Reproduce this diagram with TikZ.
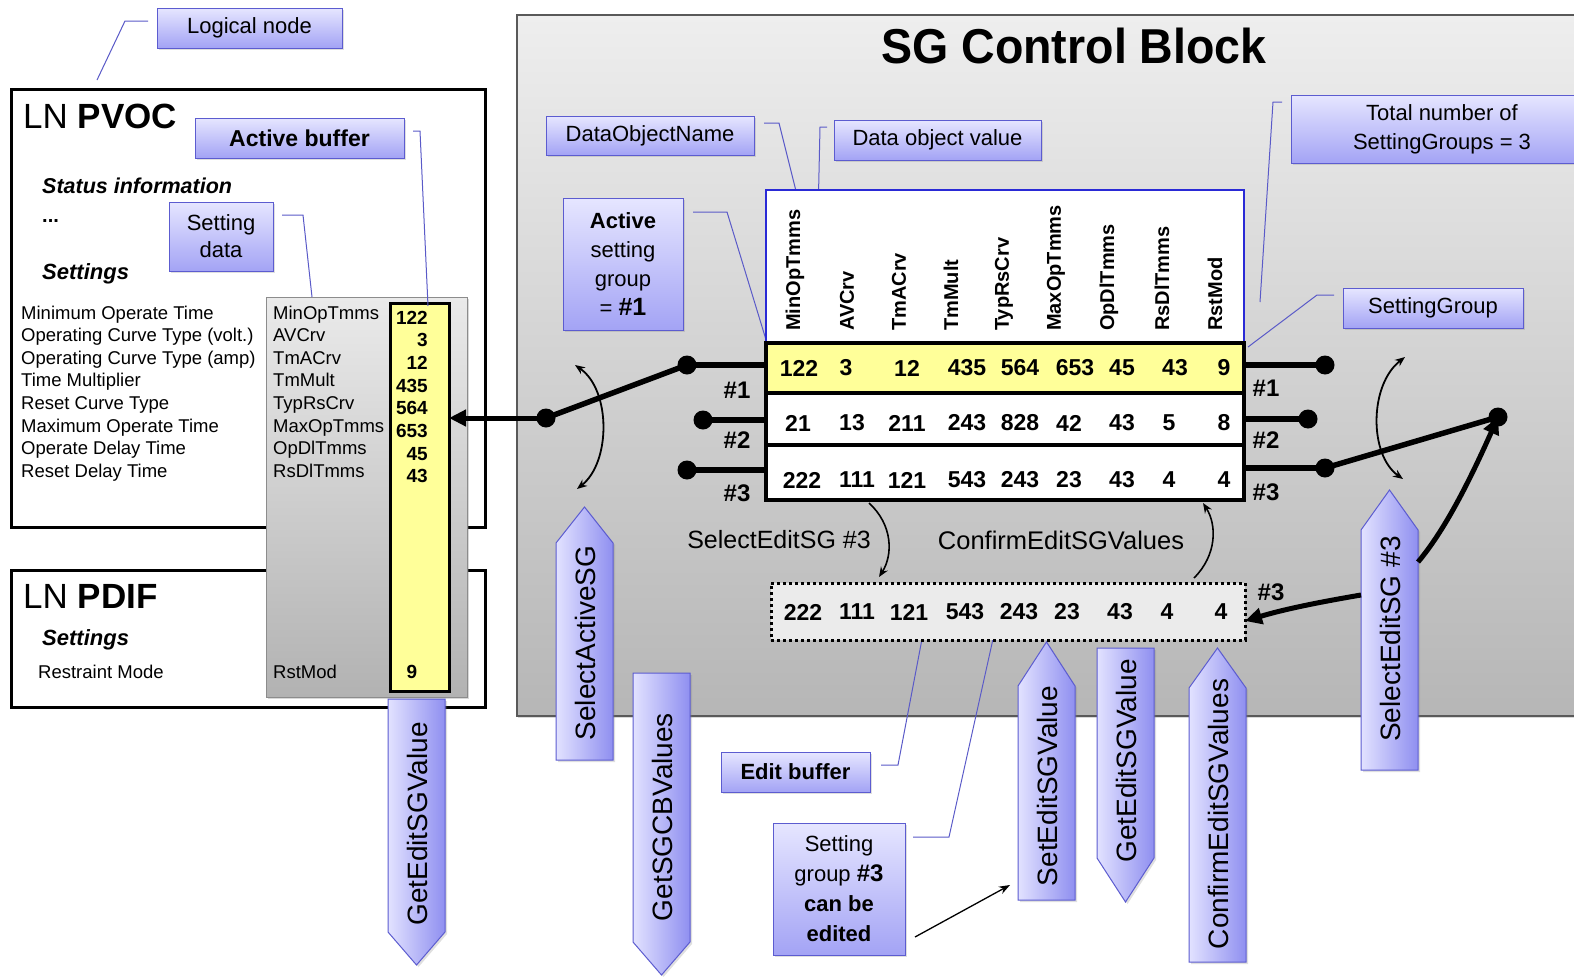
\documentclass[tikz,border=0pt]{standalone}
\usepackage{fontspec}
\setmainfont{Liberation Sans}
\newfontfamily\titlef[FakeStretch=0.95]{Liberation Sans}
\usetikzlibrary{arrows.meta,shadows,calc}
\definecolor{cbord}{HTML}{5C5CD0}
\definecolor{ctop}{HTML}{E6E6FF}
\definecolor{cbot}{HTML}{A3A3F5}
\definecolor{aleft}{HTML}{E2E2FF}
\definecolor{aright}{HTML}{8F8FF0}
\definecolor{callc}{HTML}{5A5AC8}
\definecolor{tblue}{HTML}{2A2AD6}
\definecolor{yel}{HTML}{FFFF99}
\definecolor{ptop}{HTML}{EEEEEE}
\definecolor{pbot}{HTML}{B6B6B6}
\definecolor{stop}{HTML}{EAEAEA}
\definecolor{sbot}{HTML}{B2B2B2}
\definecolor{ebuf}{HTML}{EBEBEB}
\newcommand\fsz[2]{\fontsize{#1}{#2}\selectfont}
\newcommand\ArrowShape[5]{\path[arrowshape] (#1,#5) -- (#1,#4) -- ({(#1+#2)/2},#3) -- (#2,#4) -- (#2,#5) -- cycle;}
\begin{document}
\begin{tikzpicture}[x=1pt,y=-1pt,
  bluebox/.style={draw=cbord, line width=1pt, top color=ctop, bottom color=cbot,
    drop shadow={opacity=0.25,shadow xshift=2pt,shadow yshift=-2pt},
    inner sep=0pt, align=center, font=\fsz{22}{27}},
  callout/.style={draw=callc, line width=1pt},
  arrowshape/.style={draw=cbord, line width=1pt, left color=aleft, right color=aright,
    drop shadow={opacity=0.25,shadow xshift=2pt,shadow yshift=-2pt}},
  vtext/.style={rotate=90, font=\fsz{28}{32}, inner sep=0pt},
  num/.style={font=\bfseries\fsz{23}{26}, inner sep=0pt},
  hdr/.style={rotate=90, anchor=west, font=\bfseries\fsz{20}{24}, inner sep=0pt},
  contact/.style={circle, fill=black, minimum size=19pt, inner sep=0pt},
  lbl/.style={font=\bfseries\fsz{24}{28}, inner sep=0pt},
  lst/.style={anchor=base west, font=\fsz{18.5}{22}, inner sep=0pt},
  lnbox/.style={draw=black, line width=3pt, fill=white, inner sep=0pt, outer sep=0pt},
  rowbox/.style={draw=black, line width=3.5pt, inner sep=0pt, outer sep=0pt, minimum width=478pt},
  thinarr/.style={line width=1.6pt, -{Stealth[length=10pt,width=8pt]}},
  dblarr/.style={line width=1.8pt, {Stealth[length=10pt,width=8pt]}-{Stealth[length=10pt,width=8pt]}},
  thickarr/.style={line width=5pt, -{Triangle[length=17pt,width=16pt]}},
  arm/.style={line width=5.5pt}
]
\useasboundingbox (0,0) rectangle (1574,977);
\fill[white] (0,0) rectangle (1574,977);

% ---------- main SG control block panel
\path[draw=black!65, line width=1.5pt, top color=ptop, bottom color=pbot,
  drop shadow={opacity=0.3,shadow xshift=1pt,shadow yshift=-2pt}] (517,15) rectangle (1620,716);
\node[font=\titlef\bfseries\fsz{49}{54}, inner sep=0pt] (title) at (1074,46) {SG Control Block};

% ---------- logical node boxes
\node[lnbox, minimum width=474pt, minimum height=438pt] (pvoc) at (248,308) {};
\node[lnbox, minimum width=474pt, minimum height=137pt] (pdif) at (248,638.5) {};
\node[anchor=base west, inner sep=0pt, font=\fsz{35}{40}] (pvoct) at (23,128) {LN \textbf{PVOC}};
\node[anchor=base west, inner sep=0pt, font=\bfseries\itshape\fsz{21.5}{26}] (stat) at (42,193) {Status information};
\node[anchor=base west, inner sep=0pt, font=\bfseries\fsz{20}{24}] (dots) at (42,222) {...};
\node[anchor=base west, inner sep=0pt, font=\bfseries\itshape\fsz{22}{26}] (set1) at (42,279) {Settings};
\node[anchor=base west, inner sep=0pt, font=\fsz{35}{40}] (pdift) at (23,608) {LN \textbf{PDIF}};
\node[anchor=base west, inner sep=0pt, font=\bfseries\itshape\fsz{22}{26}] (set2) at (42,645) {Settings};
\node[lst] (rmode) at (38,678) {Restraint Mode};

% settings panel with active buffer column
\path[draw=black!45, line width=1pt, top color=stop, bottom color=sbot,
  drop shadow={opacity=0.3,shadow xshift=2pt,shadow yshift=-2pt}] (266,297) rectangle (467,697);
\node[draw=black, line width=3pt, fill=yel, minimum width=59pt, minimum height=388pt,
  inner sep=0pt, outer sep=0pt] (ycol) at (419.5,497) {};

\foreach \t [count=\i from 0] in {Minimum Operate Time, Operating Curve Type (volt.),
  Operating Curve Type (amp), Time Multiplier, Reset Curve Type, Maximum Operate Time,
  Operate Delay Time, Reset Delay Time}
  \node[lst] (lab\i) at (21,{319+22.6*\i}) {\t};
\foreach \t [count=\i from 0] in {MinOpTmms, AVCrv, TmACrv, TmMult, TypRsCrv, MaxOpTmms, OpDlTmms, RsDlTmms}
  \node[lst] (nm\i) at (273,{319+22.6*\i}) {\t};
\foreach \t [count=\i from 0] in {122,3,12,435,564,653,45,43}
  \node[anchor=base east, inner sep=0pt, font=\bfseries\fsz{19}{22}] (val\i) at (428,{324+22.7*\i}) {\t};
\node[lst] (nmR) at (273,678) {RstMod};
\node[anchor=base, inner sep=0pt, font=\bfseries\fsz{19}{22}] (valR) at (412,678) {9};

% ---------- callouts
\coordinate (lnA) at (148,21); \coordinate (lnB) at (125,21); \coordinate (lnC) at (97,80);
\draw[callout] (lnA) -- (lnB) -- (lnC);
\coordinate (abA) at (413,131); \coordinate (abB) at (420,131); \coordinate (abC) at (428,306);
\draw[callout] (abA) -- (abB) -- (abC);
\coordinate (sdA) at (282,215); \coordinate (sdB) at (303,215); \coordinate (sdC) at (312,297);
\draw[callout] (sdA) -- (sdB) -- (sdC);
\coordinate (dnA) at (764,123); \coordinate (dnB) at (779,123); \coordinate (dnC) at (799,203);
\draw[callout] (dnA) -- (dnB) -- (dnC);
\coordinate (dvA) at (827,127); \coordinate (dvB) at (820,127); \coordinate (dvC) at (815,353);
\draw[callout] (dvA) -- (dvB) -- (dvC);
\coordinate (asA) at (693,212); \coordinate (asB) at (727,212); \coordinate (asC) at (767,343);
\draw[callout] (asA) -- (asB) -- (asC);
\coordinate (tnA) at (1282,102); \coordinate (tnB) at (1273,102); \coordinate (tnC) at (1260,302);
\draw[callout] (tnA) -- (tnB) -- (tnC);
\coordinate (sgA) at (1334,295); \coordinate (sgB) at (1317,295); \coordinate (sgC) at (1248,347);
\draw[callout] (sgA) -- (sgB) -- (sgC);
\coordinate (ebA) at (881,765); \coordinate (ebB) at (898,765); \coordinate (ebC) at (922,639);
\draw[callout] (ebA) -- (ebB) -- (ebC);
\coordinate (gsA) at (913,837); \coordinate (gsB) at (949,837); \coordinate (gsC) at (993,639);
\draw[callout] (gsA) -- (gsB) -- (gsC);

% ---------- label boxes
\node[bluebox, minimum width=185pt, minimum height=40pt] (lnode) at (249.5,28) {Logical node};
\node[bluebox, minimum width=209pt, minimum height=40pt, font=\bfseries\fsz{23}{27}] (abuf) at (299.5,138) {Active buffer};
\node[bluebox, minimum width=104pt, minimum height=69pt] (sdata) at (221,236.5) {Setting\\data};
\node[bluebox, minimum width=208pt, minimum height=39pt] (dobn) at (650,135.5) {DataObjectName};
\node[bluebox, minimum width=207pt, minimum height=40pt] (dobv) at (937.5,140) {Data object value};
\node[bluebox, minimum width=120pt, minimum height=132pt, font=\fsz{22}{29}] (asg) at (623,264)
  {\textbf{Active}\\setting\\group\\= \textbf{\fsz{25}{29}\#1}};
\node[bluebox, minimum width=302pt, minimum height=68pt, font=\fsz{22}{29}] (tot) at (1442,129)
  {Total number of\\SettingGroups = 3};
\node[bluebox, minimum width=180pt, minimum height=40pt] (sgrp) at (1433,308) {SettingGroup};
\node[bluebox, minimum width=149pt, minimum height=40pt, font=\bfseries\fsz{22}{27}] (ebl) at (795.5,772) {Edit buffer};
\node[bluebox, minimum width=132pt, minimum height=132pt, font=\fsz{22}{30}] (sg3) at (839,889)
  {Setting\\group \textbf{\fsz{24}{30}\#3}\\\textbf{can be}\\\textbf{edited}};

% ---------- setting group table
\node[draw=tblue, line width=2pt, fill=white, minimum width=478pt, minimum height=155pt,
  inner sep=0pt, outer sep=0pt] (hdrbox) at (1005,267.5) {};
\node[rowbox, fill=yel, minimum height=50pt] (r1) at (1005,368) {};
\node[rowbox, fill=white, minimum height=52pt] (r2) at (1005,419) {};
\node[rowbox, fill=white, minimum height=55pt] (r3) at (1005,472.5) {};
\node[rowbox, fill=yel, minimum height=50pt] (r1b) at (1005,368) {};

\foreach \t/\x in {MinOpTmms/795, AVCrv/847, TmACrv/899, TmMult/951, TypRsCrv/1004,
  MaxOpTmms/1056, OpDlTmms/1109, RsDlTmms/1162, RstMod/1215}
  \node[hdr] (h-\t) at (\x,331) {\t};
\foreach \v/\x [count=\i] in {122/799, 3/846, 12/907, 435/967, 564/1020, 653/1075, 45/1122, 43/1175, 9/1224}
  \node[num] (a\i) at (\x,368) {\v};
\foreach \v/\x [count=\i] in {21/798, 13/852, 211/907, 243/967, 828/1020, 42/1069, 43/1122, 5/1169, 8/1224}
  \node[num] (b\i) at (\x,423) {\v};
\foreach \v/\x [count=\i] in {222/802, 111/857, 121/907, 543/967, 243/1020, 23/1069, 43/1122, 4/1169, 4/1224}
  \node[num] (c\i) at (\x,480) {\v};

% ---------- left switch
\node[contact] (L1) at (687,365) {};
\node[contact] (L2) at (703,420) {};
\node[contact] (L3) at (687,470) {};
\node[contact] (LP) at (546,418) {};
\draw[arm] (L1.center) -- (L1.center -| r1.west);
\draw[arm] (L2.center) -- (L2.center -| r2.west);
\draw[arm] (L3.center) -- (L3.center -| r3.west);
\draw[arm] (LP.center) -- (L1.center);
\draw[thickarr] (LP.center) -- (LP.center -| ycol.east);
\node[lbl] (lh1) at (737,390) {\#1};
\node[lbl] (lh2) at (737,440) {\#2};
\node[lbl] (lh3) at (737,493) {\#3};
\coordinate (laT) at (575,365); \coordinate (laB) at (577,489);
\draw[dblarr] (laT) .. controls (611,390) and (611,462) .. (laB);

% ---------- right switch
\node[contact] (R1) at (1325,365) {};
\node[contact] (R2) at (1308,419) {};
\node[contact] (R3) at (1325,468) {};
\node[contact] (RP) at (1498,417) {};
\draw[arm] (R1.center) -- (R1.center -| r1.east);
\draw[arm] (R2.center) -- (R2.center -| r2.east);
\draw[arm] (R3.center) -- (R3.center -| r3.east);
\draw[arm] (R3.center) -- (RP.center);
\node[lbl] (rh1) at (1266,388) {\#1};
\node[lbl] (rh2) at (1266,440) {\#2};
\node[lbl] (rh3) at (1266,492) {\#3};
\coordinate (raT) at (1405,357); \coordinate (raB) at (1403,479);
\draw[dblarr] (raT) .. controls (1369,385) and (1369,455) .. (raB);

% ---------- edit buffer
\node[draw=black, line width=3pt, dash pattern=on 3pt off 3pt, fill=ebuf,
  minimum width=474pt, minimum height=57pt, inner sep=0pt, outer sep=0pt] (eb) at (1008,611.5) {};
\foreach \v/\x [count=\i] in {222/803, 111/857, 121/909, 543/965, 243/1019, 23/1067, 43/1120, 4/1167, 4/1221}
  \node[num] (e\i) at (\x,612) {\v};
\node[lbl] (eh3) at (1271,592) {\#3};

% edit / confirm flow arrows
\node[font=\fsz{25}{29}, inner sep=0pt] (selt) at (779,540) {SelectEditSG \#3};
\node[font=\fsz{25.5}{29}, inner sep=0pt] (cnft) at (1061,540) {ConfirmEditSGValues};
\coordinate (s3A) at (869,503); \coordinate (s3B) at (879,577);
\draw[thinarr] (s3A) .. controls (893,525) and (893,555) .. (s3B);
\coordinate (cfA) at (1194,578); \coordinate (cfB) at (1203,503);
\draw[thinarr] (cfA) .. controls (1217,555) and (1217,525) .. (cfB);

% ---------- service arrows
\ArrowShape{388}{445}{965}{932}{699}
\node[vtext] (t-gesv1) at (417,824) {GetEditSGValue};
\ArrowShape{556}{613}{507}{543}{760}
\node[vtext] (t-sasg) at (585,643) {SelectActiveSG};
\ArrowShape{633}{690}{975}{942}{673}
\node[vtext] (t-gsgcb) at (662,817) {GetSGCBValues};
\ArrowShape{1018}{1075}{642}{686}{900}
\node[vtext] (t-sesv) at (1047,786) {SetEditSGValue};
\ArrowShape{1097}{1154}{902}{858}{648}
\node[vtext] (t-gesv2) at (1126,761) {GetEditSGValue};
\ArrowShape{1189}{1246}{648}{688}{962}
\node[vtext] (t-cesv) at (1218,814) {ConfirmEditSGValues};
\ArrowShape{1361}{1418}{490}{530}{770}
\node[vtext] (t-sesg) at (1390,639) {SelectEditSG \#3};

% thick arrows from SelectEditSG
\coordinate (seL) at (1361,595); \coordinate (seU) at (1418,562);
\draw[thickarr] (seL) .. controls (1320,602) and (1285,609) .. (eb.east |- 0,621);
\draw[thickarr] (seU) .. controls (1445,530) and (1470,480) .. (RP.center);

% setting group -> SetEditSGValue
\coordinate (g3A) at (915,937); \coordinate (g3B) at (1010,885);
\draw[line width=1.3pt, -{Stealth[length=11pt,width=8pt]}] (g3A) -- (g3B);
\end{tikzpicture}
\end{document}
